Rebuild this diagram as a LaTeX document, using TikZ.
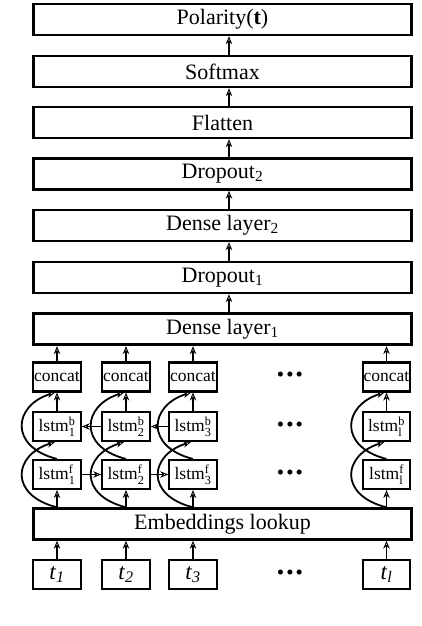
\documentclass[tikz,border=0pt]{standalone}
\usepackage{amsmath}
\usepackage{fontspec}
\setmainfont{Liberation Serif}
\usetikzlibrary{arrows.meta,calc}
\begin{document}
\begin{tikzpicture}[x=1pt,y=-1pt,
  big/.style={draw, line width=2.4pt, minimum width=378pt, minimum height=31pt, inner sep=0pt, font=\fontsize{22}{24}\selectfont},
  small/.style={draw, line width=2.1pt, minimum width=47.5pt, minimum height=29pt, inner sep=0pt, font=\fontsize{17.5}{20}\selectfont},
  tip/.tip={Stealth[open, length=8pt, width=6.5pt, line width=0.9pt]},
  arr/.style={line width=1.5pt, -tip},
  curv/.style={line width=1.8pt, -tip},
  dots/.style={inner sep=0pt, font=\fontsize{21}{21}\selectfont}
]
\useasboundingbox (0,0) rectangle (422,626);
\node[big] (pol) at (222.5,19.5) {Polarity(\textbf{t})};
\node[big] (soft) at (222.5,71.5) {Softmax};
\node[big] (flat) at (222.5,122.5) {Flatten};
\node[big] (dr2) at (222.5,174) {Dropout\textsubscript{2}};
\node[big] (de2) at (222.5,225.5) {Dense layer\textsubscript{2}};
\node[big] (dr1) at (222.5,277.5) {Dropout\textsubscript{1}};
\node[big, line width=3.3pt] (de1) at (222.5,329) {Dense layer\textsubscript{1}};
\node[big] (emb) at (222.5,524) {Embeddings lookup};
\foreach \i/\x in {1/57, 2/126, 3/193, l/386.5} {
  \node[small] (c\i) at (\x,377) {concat};
  \node[small] (b\i) at (\x,426.5) {lstm$^{\text{b}}_{\text{\i}}$};
  \node[small] (f\i) at (\x,474.5) {lstm$^{\text{f}}_{\text{\i}}$};
  \node[small, font=\fontsize{23}{24}\selectfont] (t\i) at (\x,574.5) {\textit{t}\textsubscript{\textit{\i}}};
}
\foreach \n/\yy in {dc/377, db/426.5, df/474.5, dt/574.5}
  \node[dots] (\n) at (290,\yy) {•\hspace{2pt}•\hspace{2pt}•};
\foreach \a/\b in {de1/dr1, dr1/de2, de2/dr2, dr2/flat, flat/soft, soft/pol}
  \draw[arr] ([xshift=6.5pt]\a.north) -- ([xshift=6.5pt]\b.south);
\foreach \i in {1,2,3,l} {
  \draw[arr] (c\i.north) -- (c\i.north |- de1.south);
  \draw[arr] (b\i.north) -- (c\i.south);
  \draw[arr] (t\i.north) -- (t\i.north |- emb.south);
  \draw[arr] (f\i.south |- emb.north) -- (f\i.south);
  \draw[curv] (f\i.south |- emb.north) .. controls +(-48,-12) and +(-42,13) .. ([xshift=-2pt]b\i.south);
  \draw[curv] (f\i.north) .. controls +(-48,-12) and +(-42,13) .. ([xshift=-2pt]c\i.south);
}
\draw[arr] (f1.east) -- (f2.west);
\draw[arr] (f2.east) -- (f3.west);
\draw[arr] (b2.west) -- (b1.east);
\draw[arr] (b3.west) -- (b2.east);
\end{tikzpicture}
\end{document}
